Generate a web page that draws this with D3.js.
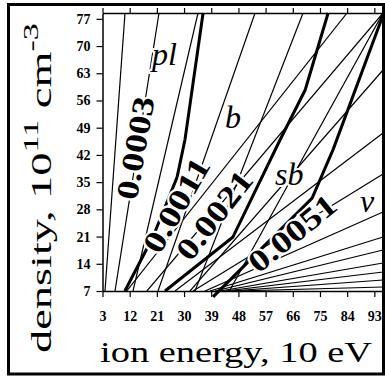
<!DOCTYPE html>
<html>
<head>
<meta charset="utf-8">
<script src="https://cdn.jsdelivr.net/npm/d3@7"></script>
<style>
  body { margin: 0; background: #fff; }
  text { font-family: "Liberation Serif", "Times New Roman", Times, serif; }
</style>
</head>
<body>
<svg id="chart" width="385" height="376"></svg>
<script>
// axis ticks
const xTicks = [3, 12, 21, 30, 39, 48, 57, 66, 75, 84, 93];
const yTicks = [7, 14, 21, 28, 35, 42, 49, 56, 63, 70, 77];

// thin lines, [energy, density] end points
const thinLines = [
  [[3.83, 7], [10.45, 78.5]],
  [[7.14, 7], [21.71, 78.5]],
  [[13.1, 7], [34.62, 78.5]],
  [[21.38, 7], [53.5, 78.5]],
  [[33.63, 7], [69.39, 78.5]],
  [[11.0, 7], [83.96, 78.5]],
  [[17.7, 7], [95.88, 78.5]],
  [[45.0, 7], [95.88, 78.5]],
  [[31.97, 7], [95.88, 63.84]],
  [[27.0, 7], [95.88, 47.64]],
  [[32.97, 7], [95.88, 37.09]],
  [[36.94, 7], [95.88, 27.32]],
  [[38.6, 7], [95.88, 20.89]],
  [[40.25, 7], [95.88, 17.55]],
  [[41.91, 7], [95.88, 14.2]],
  [[43.56, 7], [95.88, 11.89]],
  [[45.22, 7], [95.88, 9.83]],
  [[46.87, 7], [95.88, 8.03]]
];

// thick boundary curves
const curve0011 = [[10.4, 7], [19.7, 20.9], [27.7, 36.3], [30.3, 45.9], [36.3, 78.5]];
const curve0021 = [[23.7, 7], [46.2, 20.9], [61.8, 45.9], [70.1, 58.7], [77.7, 78.5]];
const curve0051 = [[39.6, 5.5], [72.4, 30.9], [79.3, 43.3], [95.9, 78.0]];

const valueLabels = ["0.0003", "0.0011", "0.0021", "0.0051"];
const valueAt = [[13.76, 43.78], [27.34, 29.12], [39.92, 26.55], [65.75, 21.92]];
const valueAngle = [-80, -60, -52, -39];

const regionLabels = ["pl", "b", "sb", "\u03bd"];
const regionAt = [[19.39, 65.13], [43.56, 48.92], [60.12, 34.26], [88.26, 27.32]];

const svg = d3.select("#chart");
const plot = {left: 102.5, right: 383.4, top: 13, bottom: 291};
const serif = "'Liberation Serif', 'Times New Roman', Times, serif";

const x = d3.scaleLinear().domain([3, 96]).range([plot.left, plot.right]);
const y = d3.scaleLinear().domain([7, 78.5]).range([plot.bottom, plot.top]);

// outer frame
svg.append("rect")
  .attr("x", 8.5).attr("y", 4.5)
  .attr("width", 375).attr("height", 369.5)
  .attr("fill", "#fff").attr("stroke", "#000").attr("stroke-width", 3);

svg.append("clipPath").attr("id", "clip")
  .append("rect")
  .attr("x", plot.left).attr("y", plot.top)
  .attr("width", plot.right - plot.left).attr("height", plot.bottom - plot.top);

const line = d3.line().x(d => x(d[0])).y(d => y(d[1]));

const g = svg.append("g");
g.append("g").attr("clip-path", "url(#clip)")
  .selectAll("path.thin")
  .data(thinLines)
  .enter().append("path")
  .attr("class", "thin")
  .attr("d", line)
  .attr("fill", "none").attr("stroke", "#000").attr("stroke-width", 1.2);

g.selectAll("path.thick")
  .data([curve0011, curve0021, curve0051])
  .enter().append("path")
  .attr("class", "thick")
  .attr("d", line)
  .attr("fill", "none").attr("stroke", "#000").attr("stroke-width", 3)
  .attr("stroke-linejoin", "round");

// axes
const xAxis = g.append("g")
  .attr("transform", "translate(0," + plot.bottom + ")")
  .call(d3.axisBottom(x).tickValues(xTicks).tickSize(6).tickPadding(14).tickSizeOuter(0));
const xTop = g.append("g")
  .attr("transform", "translate(0," + plot.top + ")")
  .call(d3.axisTop(x).tickValues(xTicks).tickSize(5).tickFormat("").tickSizeOuter(0));
const yAxis = g.append("g")
  .attr("transform", "translate(" + plot.left + ",0)")
  .call(d3.axisLeft(y).tickValues(yTicks).tickSize(6).tickPadding(6).tickSizeOuter(0));

[xAxis, xTop, yAxis].forEach(a => {
  a.attr("font-family", serif);
  a.select(".domain").attr("stroke", "#000").attr("stroke-width", 1.5);
  a.selectAll(".tick line").attr("stroke", "#000").attr("stroke-width", 1.2);
  a.selectAll(".tick text")
    .attr("fill", "#000")
    .style("font-family", serif)
    .style("font-weight", "bold")
    .style("font-size", "14px");
});

// value labels on the curves
g.selectAll("text.val")
  .data(valueLabels)
  .enter().append("text")
  .attr("class", "val")
  .attr("transform", (d, i) => "translate(" + x(valueAt[i][0]) + "," + y(valueAt[i][1]) + ") rotate(" + valueAngle[i] + ")")
  .attr("text-anchor", "middle")
  .attr("dy", "0.35em")
  .attr("textLength", 104)
  .attr("lengthAdjust", "spacingAndGlyphs")
  .style("font-family", serif)
  .style("font-size", "31px")
  .style("font-weight", "bold")
  .attr("fill", "#000")
  .attr("stroke", "#fff").attr("stroke-width", 4)
  .attr("paint-order", "stroke")
  .text(d => d);

// region labels
g.selectAll("text.reg")
  .data(regionLabels)
  .enter().append("text")
  .attr("class", "reg")
  .attr("x", (d, i) => x(regionAt[i][0]))
  .attr("y", (d, i) => y(regionAt[i][1]))
  .style("font-family", serif)
  .style("font-size", "32px")
  .style("font-style", "italic")
  .attr("fill", "#000")
  .attr("stroke", "#fff").attr("stroke-width", 4)
  .attr("paint-order", "stroke")
  .text(d => d);

// axis titles
svg.append("text")
  .attr("x", 100).attr("y", 362)
  .attr("textLength", 272).attr("lengthAdjust", "spacingAndGlyphs")
  .style("font-family", serif)
  .style("font-size", "30px")
  .text("ion energy, 10 eV");

const yt = svg.append("text")
  .style("font-family", serif)
  .style("font-size", "30px");
yt.append("tspan").text("density, 10");
yt.append("tspan").attr("dy", -13).style("font-size", "22px").text("11");
yt.append("tspan").attr("dy", 13).text(" cm");
yt.append("tspan").attr("dy", -13).style("font-size", "22px").text("-3");
const w0 = yt.node().getComputedTextLength();
yt.attr("transform", "translate(51,353) rotate(-90) scale(" + (330 / w0) + ",1)");
</script>
</body>
</html>
